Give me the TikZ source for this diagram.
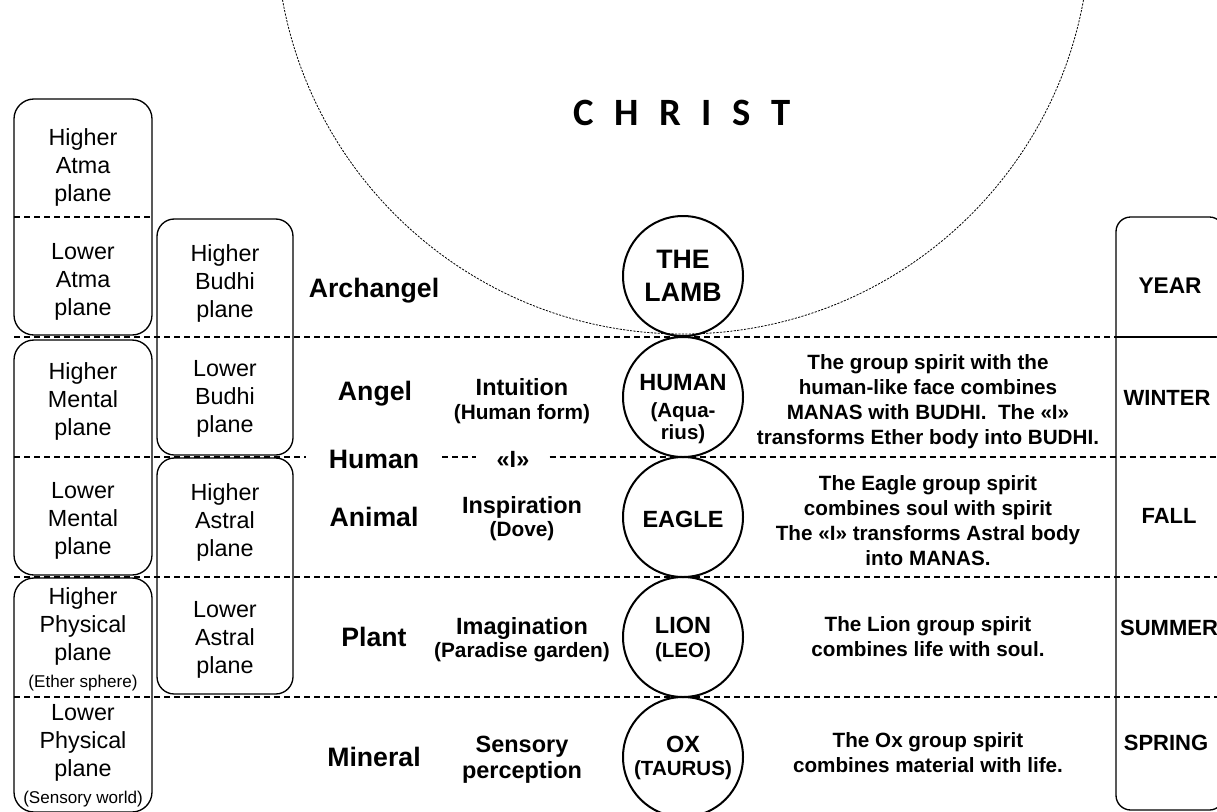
\documentclass[tikz,border=0pt]{standalone}
\usepackage{fontspec}
\setmainfont{Liberation Sans}
\newfontfamily\titlefont{Carlito}
\begin{document}
\begin{tikzpicture}[x=0.75pt, y=-0.75pt,
  divider/.style={line width=0.8pt, dash pattern=on 4.5pt off 3pt},
  haloline/.style={line width=0.6pt, dash pattern=on 1.6pt off 1pt},
  planebox/.style={draw, line width=1pt},
  planetext/.style={align=center, inner sep=0pt, font=\fontsize{17.5}{21}\selectfont},
  notefont/.style={},
  level/.style={anchor=base, inner sep=0pt, font=\bfseries\fontsize{20}{24}\selectfont},
  faculty/.style={anchor=base, inner sep=0pt, font=\bfseries\fontsize{17.6}{21}\selectfont},
  facultysub/.style={anchor=base, inner sep=0pt, font=\bfseries\fontsize{15.6}{19}\selectfont},
  beast/.style={circle, draw, line width=1.5pt, minimum size=90pt, inner sep=0pt},
  beastname/.style={inner sep=0pt, font=\bfseries\fontsize{17.6}{21}\selectfont},
  beastsub/.style={inner sep=0pt, align=center, font=\bfseries\fontsize{15.4}{16.5}\selectfont},
  desc/.style={align=center, inner sep=0pt, font=\bfseries\fontsize{15.5}{18.75}\selectfont},
  season/.style={anchor=base, inner sep=0pt, font=\bfseries\fontsize{16.5}{20}\selectfont}
]
\useasboundingbox (0,0) rectangle (1217,811);
\clip (0,0) rectangle (1217,811);

% halo of Christ
\draw[haloline] (683,-73) circle[radius=305.25pt];
\node[anchor=base, inner sep=0pt, font=\titlefont\bfseries\fontsize{29}{35}\selectfont]
  (christ) at (682,125) {\spaceskip=15.4pt\relax C H R I S T};

% horizontal dividers between the levels
\coordinate (egoline) at (0,457);
\draw[divider] (14,217) -- (153,217);
\draw[divider] (14,337) -- (1116,337);
\draw[divider] (14,577) -- (1217,577);
\draw[divider] (14,697) -- (1217,697);

% planes, left column
\draw[planebox, rounded corners=15pt] (14,99) rectangle (152,335);
\draw[planebox, rounded corners=15pt] (14,340) rectangle (152,575);
\draw[planebox, rounded corners=15pt] (14,578) rectangle (152,812);
\node[planetext] (atmaH) at (83,167) {Higher\\Atma\\plane};
\node[planetext] (atmaL) at (83,282) {Lower\\Atma\\plane};
\node[planetext] (mentalH) at (83,401) {Higher\\Mental\\plane};
\node[planetext] (mentalL) at (83,521) {Lower\\Mental\\plane};
\node[planetext] (physH) at (83,639) {Higher\\Physical\\plane\\[-1pt]{\fontsize{12.8}{15}\selectfont(Ether sphere)}};
\node[planetext] (physL) at (83,756) {Lower\\Physical\\plane\\[-1pt]{\fontsize{12.8}{15}\selectfont(Sensory world)}};

% planes, second column
\draw[planebox, rounded corners=13pt] (157,219) rectangle (293,455);
\draw[planebox, rounded corners=13pt] (157,458) rectangle (293,694);
\node[planetext] (budhiH) at (225,283) {Higher\\Budhi\\plane};
\node[planetext] (budhiL) at (225,399) {Lower\\Budhi\\plane};
\node[planetext] (astralH) at (225,522) {Higher\\Astral\\plane};
\node[planetext] (astralL) at (225,640) {Lower\\Astral\\plane};

% kingdoms
\node[level] (archangel) at (374,297) {Archangel};
\node[level] (angel) at (375,400) {Angel};
\node[level, inner xsep=17pt] (human) at (374,468) {Human};
\node[level] (animal) at (374,526) {Animal};
\node[level] (plant) at (374,646) {Plant};
\node[level] (mineral) at (374,766) {Mineral};

% faculties
\node[faculty] (intuition) at (522,395) {Intuition};
\node[facultysub] (humanform) at (522,419) {(Human form)};
\node[faculty, inner xsep=15pt] (ego) at (513,467) {«I»};
\node[faculty] (inspiration) at (522,513) {Inspiration};
\node[facultysub] (dove) at (522,536) {(Dove)};
\node[faculty] (imagination) at (522,634) {Imagination};
\node[facultysub] (paradise) at (522,657) {(Paradise garden)};
\node[faculty] (sensory) at (522,752) {Sensory};
\node[faculty] (perception) at (522,778) {perception};

% the «I» line
\draw[divider] (14,457) -- (human.west |- egoline);
\draw[divider] (human.east |- egoline) -- (ego.west |- egoline);
\draw[divider] (ego.east |- egoline) -- (1217,457);

% group spirits
\node[beast] (lamb) at (683,276) {};
\node[beast] (humanc) at (683,397) {};
\node[beast] (eagle) at (683,517) {};
\node[beast] (lion) at (683,637) {};
\node[beast] (ox) at (683,757) {};
\node[inner sep=0pt, align=center, font=\bfseries\fontsize{20}{24.75}\selectfont] (lambname) at (683,276) {THE\\LAMB};
\node[beastname, anchor=base] (humanname) at (683,390) {HUMAN};
\node[beastsub, anchor=north] (aquarius) at (683,402) {(Aqua-\\rius)};
\node[beastname, anchor=base] (eaglename) at (683,527) {EAGLE};
\node[beastname, anchor=base] (lionname) at (683,633) {LION};
\node[beastsub, anchor=base] (leo) at (683,657) {(LEO)};
\node[beastname, anchor=base] (oxname) at (683,752) {OX};
\node[beastsub, anchor=base] (taurus) at (683,775) {(TAURUS)};

% descriptions
\node[desc] (humandesc) at (928,402) {The group spirit with the\\human-like face combines\\MANAS with BUDHI.\ \ The «I»\\transforms Ether body into BUDHI.};
\node[desc] (eagledesc) at (928,521) {The Eagle group spirit\\combines soul with spirit\\The «I» transforms Astral body\\into MANAS.};
\node[desc] (liondesc) at (928,637) {The Lion group spirit\\combines life with soul.};
\node[desc] (oxdesc) at (928,753) {The Ox group spirit\\combines material with life.};

% seasons
\draw[planebox, rounded corners=11pt] (1116,217) rectangle (1224,810);
\draw[line width=1pt] (1116,337) -- (1217,337);
\node[season, font=\bfseries\fontsize{17}{20}\selectfont] (year) at (1170,293) {YEAR};
\node[season] (winter) at (1167,405) {WINTER};
\node[season] (fall) at (1169,523) {FALL};
\node[season] (summer) at (1169,635) {SUMMER};
\node[season] (spring) at (1166,750) {SPRING};
\end{tikzpicture}
\end{document}
